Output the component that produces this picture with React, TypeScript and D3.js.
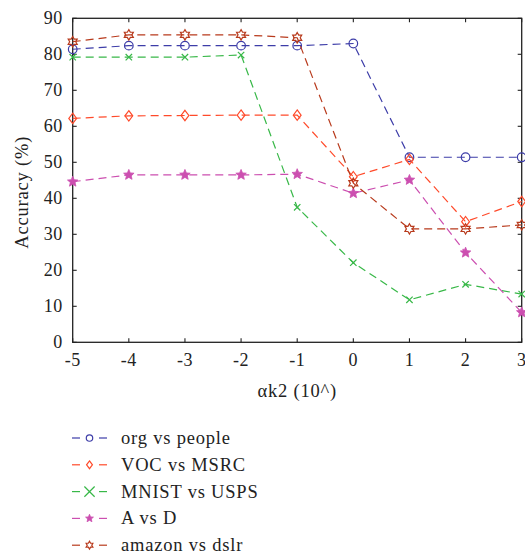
import React from "react";
import * as d3 from "d3";

const xValues = [-5, -4, -3, -2, -1, 0, 1, 2, 3];
const yTicks = [0, 10, 20, 30, 40, 50, 60, 70, 80, 90];

const orgVsPeople = [81.4, 82.4, 82.4, 82.4, 82.4, 83.0, 51.4, 51.4, 51.4];
const vocVsMsrc = [62.2, 62.9, 63.0, 63.1, 63.1, 46.0, 50.8, 33.5, 39.1];
const mnistVsUsps = [79.2, 79.2, 79.2, 79.8, 37.5, 22.1, 11.8, 16.1, 13.4];
const aVsD = [44.6, 46.5, 46.5, 46.5, 46.7, 41.4, 45.1, 24.9, 8.3];
const amazonVsDslr = [83.5, 85.4, 85.4, 85.4, 84.6, 44.2, 31.5, 31.5, 32.6];

const seriesNames = ["org vs people", "VOC vs MSRC", "MNIST vs USPS", "A vs D", "amazon vs dslr"];
const seriesColors = ["#3d3da8", "#ff4a2a", "#38b848", "#cc4fb0", "#b83a1c"];
const seriesMarkers = ["circle", "diamond", "cross", "star", "hexagram"];
const seriesValues = [orgVsPeople, vocVsMsrc, mnistVsUsps, aVsD, amazonVsDslr];

const W = 525;
const H = 557;
const margin = { left: 72.7, right: 3.3, top: 18.3, bottom: 214.7 };
const FONT = "'Liberation Serif', 'DejaVu Serif', serif";

function Marker({ kind, x, y, color, s = 1 }: { kind: string; x: number; y: number; color: string; s?: number }) {
  if (kind === "circle") {
    return <circle cx={x} cy={y} r={4.3 * s} fill="none" stroke={color} strokeWidth={1.2} />;
  }
  if (kind === "diamond") {
    const r = 5.2 * s;
    return (
      <path
        d={`M${x},${y - r}L${x + r * 0.75},${y}L${x},${y + r}L${x - r * 0.75},${y}Z`}
        fill="none"
        stroke={color}
        strokeWidth={1.2}
      />
    );
  }
  if (kind === "cross") {
    const r = 3.2 * s;
    return (
      <path
        d={`M${x - r},${y - r}L${x + r},${y + r}M${x - r},${y + r}L${x + r},${y - r}`}
        stroke={color}
        strokeWidth={1.2}
      />
    );
  }
  if (kind === "star") {
    const pts: [number, number][] = [];
    const R = 5.5 * s;
    const rIn = R * 0.45;
    for (let i = 0; i < 10; i++) {
      const a = -Math.PI / 2 + (i * Math.PI) / 5;
      const rr = i % 2 === 0 ? R : rIn;
      pts.push([x + rr * Math.cos(a), y + rr * Math.sin(a)]);
    }
    return <path d={d3.line()(pts) + "Z"} fill={color} stroke={color} strokeWidth={0.8} />;
  }
  // six-pointed star
  const pts: [number, number][] = [];
  const R = 5.2 * s;
  const rIn = R * 0.58;
  for (let i = 0; i < 12; i++) {
    const a = -Math.PI / 2 + (i * Math.PI) / 6;
    const rr = i % 2 === 0 ? R : rIn;
    pts.push([x + rr * Math.cos(a), y + rr * Math.sin(a)]);
  }
  return <path d={d3.line()(pts) + "Z"} fill="none" stroke={color} strokeWidth={1.2} />;
}

export default function App() {
  const x = d3.scaleLinear().domain([-5, 3]).range([margin.left, W - margin.right]);
  const y = d3.scaleLinear().domain([0, 90]).range([H - margin.bottom, margin.top]);
  const line = d3
    .line<number>()
    .x((_, i) => x(xValues[i]))
    .y((d) => y(d));
  const [x0, x1] = x.range();
  const [y0, y1] = y.range();
  const tickLen = 4;

  return (
    <svg
      width={W}
      height={H}
      style={{ position: "absolute", left: 0, top: 0, background: "#fff" }}
      fontFamily={FONT}
    >
      {/* frame */}
      <rect x={x0} y={y1} width={x1 - x0} height={y0 - y1} fill="none" stroke="#222" strokeWidth={1.3} />
      {/* x ticks (bottom and top, inward) */}
      {xValues.map((v) => (
        <g key={"xt" + v}>
          <line x1={x(v)} x2={x(v)} y1={y0} y2={y0 - tickLen} stroke="#222" strokeWidth={1.1} />
          <line x1={x(v)} x2={x(v)} y1={y1} y2={y1 + tickLen} stroke="#222" strokeWidth={1.1} />
          <text x={x(v)} y={y0 + 24} textAnchor="middle" fontSize={18} letterSpacing={0.5} fill="#222">
            {v}
          </text>
        </g>
      ))}
      {/* y ticks (left and right, inward) */}
      {yTicks.map((v) => (
        <g key={"yt" + v}>
          <line x1={x0} x2={x0 + tickLen} y1={y(v)} y2={y(v)} stroke="#222" strokeWidth={1.1} />
          <line x1={x1} x2={x1 - tickLen} y1={y(v)} y2={y(v)} stroke="#222" strokeWidth={1.1} />
          <text x={x0 - 10} y={y(v) + 6} textAnchor="end" fontSize={18} letterSpacing={0.5} fill="#222">
            {v}
          </text>
        </g>
      ))}
      {/* axis titles */}
      <text x={(x0 + x1) / 2} y={397} textAnchor="middle" fontSize={18.5} letterSpacing={0.8} fill="#222">
        αk2 (10^)
      </text>
      <text
        transform={`translate(28,${(y0 + y1) / 2 + 12}) rotate(-90)`}
        textAnchor="middle"
        fontSize={18.5}
        letterSpacing={0.8}
        fill="#222"
      >
        Accuracy (%)
      </text>
      {/* series */}
      {seriesValues.map((vals, si) => (
        <g key={"s" + si}>
          <path
            d={line(vals) || ""}
            fill="none"
            stroke={seriesColors[si]}
            strokeWidth={1.2}
            strokeDasharray="8,5"
          />
          {vals.map((v, i) => (
            <Marker key={i} kind={seriesMarkers[si]} x={x(xValues[i])} y={y(v)} color={seriesColors[si]} />
          ))}
        </g>
      ))}
      {/* legend */}
      {seriesNames.map((name, i) => {
        const ly = 438 + i * 26.8;
        return (
          <g key={"lg" + i}>
            <line x1={72} x2={80} y1={ly} y2={ly} stroke={seriesColors[i]} strokeWidth={1.2} />
            <line x1={99} x2={107} y1={ly} y2={ly} stroke={seriesColors[i]} strokeWidth={1.2} />
            <Marker kind={seriesMarkers[i]} x={89.5} y={ly} color={seriesColors[i]} s={i === 2 ? 1.6 : 0.75} />
            <text x={121} y={ly + 6} fontSize={18.5} letterSpacing={0.8} fill="#222">
              {name}
            </text>
          </g>
        );
      })}
    </svg>
  );
}
